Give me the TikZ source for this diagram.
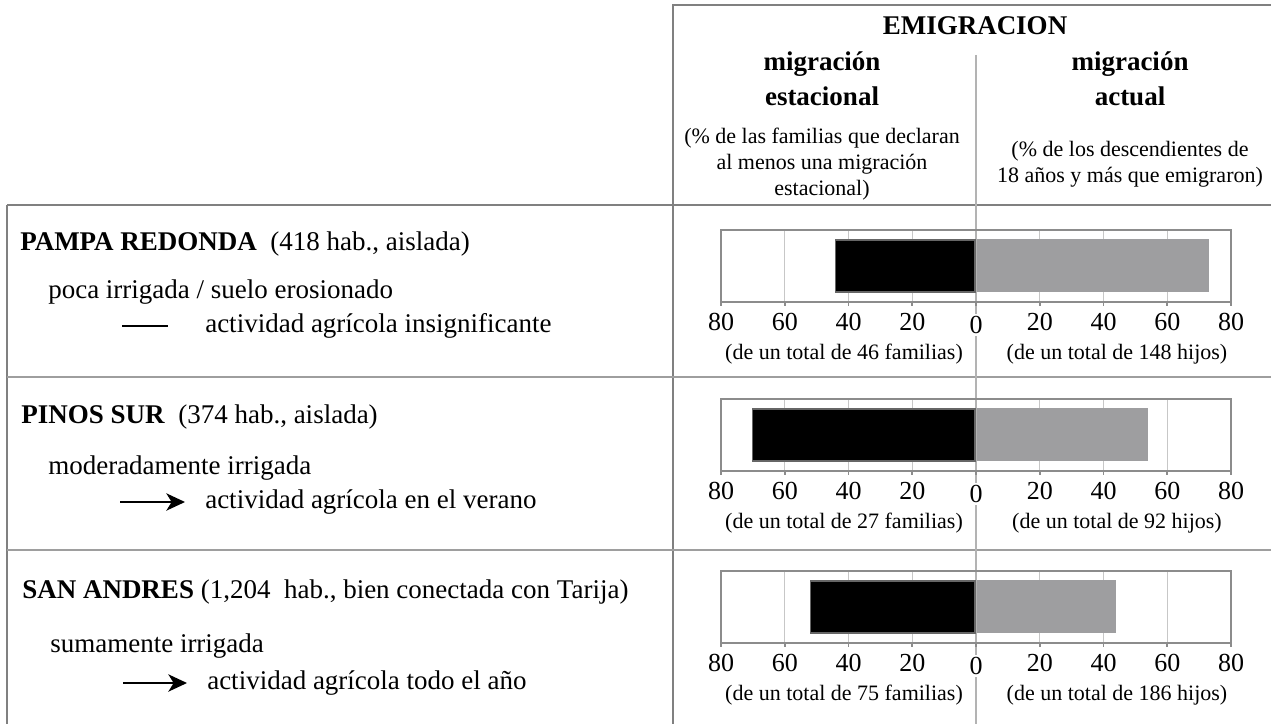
\documentclass[tikz,border=0pt]{standalone}
\usepackage{fontspec}
\setmainfont{Liberation Serif}
\usetikzlibrary{arrows.meta}

\definecolor{framegray}{gray}{0.5}
\definecolor{rulegray}{gray}{0.62}
\definecolor{gridgray}{gray}{0.78}
\definecolor{boxgray}{gray}{0.55}
\definecolor{bargray}{RGB}{158,158,160}

\begin{document}
\begin{tikzpicture}[x=0.75pt,y=-0.75pt,
  every node/.style={inner sep=0pt},
  big/.style={font=\fontsize{20.25pt}{24pt}\selectfont},
  small/.style={font=\fontsize{16.5pt}{19.5pt}\selectfont,align=center},
  num/.style={font=\fontsize{19.5pt}{22pt}\selectfont},
  frame/.style={draw=framegray,line width=1.5pt},
  rowrule/.style={draw=rulegray,line width=1.5pt},
  midline/.style={draw=gridgray!90!black,line width=1pt},
  gridline/.style={draw=gridgray,line width=0.8pt},
  chartbox/.style={draw=boxgray,line width=1.2pt},
  seasonal/.style={fill=black,draw=black!60,line width=0.8pt},
  current/.style={fill=bargray},
  arrowline/.style={line width=1.3pt,-{Stealth[length=14pt,width=13pt,inset=4pt]}}
]
  \useasboundingbox (0,0) rectangle (1271,724);

  % table rules
  \draw[frame] (1271,5) -- (673,5) -- (673,724);
  \draw[frame] (7,724) -- (7,205);
  \draw[frame] (7,205) -- (1271,205);
  \draw[rowrule] (7,377) -- (1271,377);
  \draw[rowrule] (7,550) -- (1271,550);
  \draw[midline] (976,55) -- (976,724);

  % header
  \node (emig) at (975,26) [big] {\textbf{EMIGRACION}};
  \node (est1) at (822,64) [big] {\textbf{migración}};
  \node (est2) at (822,96) [big] {\textbf{estacional}};
  \node (act1) at (1130,64) [big] {\textbf{migración}};
  \node (act2) at (1130,96) [big] {\textbf{actual}};
  \node (estnote) at (822,164) [small]
    {(\% de las familias que declaran\\al menos una migración\\estacional)};
  \node (actnote) at (1130,164) [small]
    {(\% de los descendientes de\\18 años y más que emigraron)};

  % villages
  \node (pampa) at (20,244) [big,anchor=west]
    {\textbf{PAMPA REDONDA}\ \ (418 hab., aislada)};
  \node (pampa-irr) at (48,292) [big,anchor=west] {poca irrigada / suelo erosionado};
  \node (pampa-agr) at (205,326) [big,anchor=west] {actividad agrícola insignificante};
  \coordinate (pampa-d) at (122,326);
  \draw[line width=1.3pt,shorten >=28pt] (pampa-d) -- (pampa-agr.west);

  \node (pinos) at (21,417) [big,anchor=west]
    {\textbf{PINOS SUR}\ \ (374 hab., aislada)};
  \node (pinos-irr) at (48,468) [big,anchor=west] {moderadamente irrigada};
  \node (pinos-agr) at (205,502) [big,anchor=west] {actividad agrícola en el verano};
  \coordinate (pinos-a) at (120,502);
  \draw[arrowline,shorten >=15pt] (pinos-a) -- (pinos-agr.west);

  \node (andres) at (22,592) [big,anchor=west]
    {\textbf{SAN ANDRES} (1,204\ \ hab., bien conectada con Tarija)};
  \node (andres-irr) at (50,646) [big,anchor=west] {sumamente irrigada};
  \node (andres-agr) at (207,683) [big,anchor=west] {actividad agrícola todo el año};
  \coordinate (andres-a) at (123,683);
  \draw[arrowline,shorten >=15pt] (andres-a) -- (andres-agr.west);

  % bar charts
  \foreach \r/\ytop/\sval/\cval/\stot/\ctot in
      {a/230/44/73/46 familias/148 hijos,
       b/399/70/54/27 familias/92 hijos,
       c/571/52/44/75 familias/186 hijos}{
    \draw[gridline] \foreach \k in {-3,-2,-1,1,2,3} {(976+63.75*\k,\ytop) -- (976+63.75*\k,\ytop+72)};
    \draw[chartbox] (721,\ytop) rectangle (1231,\ytop+72);
    \draw[chartbox] \foreach \k in {-4,...,4} {(976+63.75*\k,\ytop+72) -- (976+63.75*\k,\ytop+76)};
    \filldraw[seasonal] (976-3.1875*\sval,\ytop+10) rectangle (975,\ytop+62);
    \fill[current] (977,\ytop+9) rectangle (976+3.1875*\cval,\ytop+62);
    \foreach \k in {-4,-3,-2,-1,1,2,3,4}{
      \pgfmathtruncatemacro\lab{abs(\k)*20}
      \node (n-\r\k) at (976+63.75*\k,\ytop+92) [num] {\lab};
    }
    \node (zero-\r) at (976,\ytop+95) [num,fill=white,inner sep=2pt] {0};
    \node (stot-\r) at (844,\ytop+124) [small] {(de un total de \stot)};
    \node (ctot-\r) at (1117,\ytop+124) [small] {(de un total de \ctot)};
  }
\end{tikzpicture}
\end{document}
